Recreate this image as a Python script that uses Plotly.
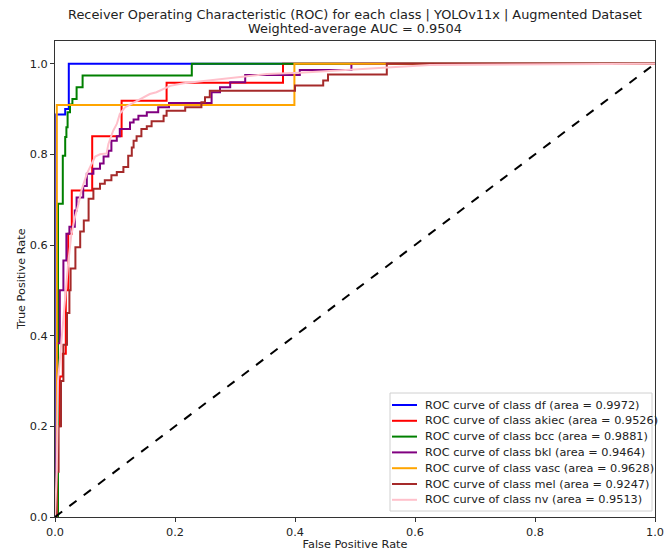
import plotly.graph_objects as go

# ---- data (ROC vertices) ----
classes = ["df", "akiec", "bcc", "bkl", "vasc", "mel", "nv"]
auc = [0.9972, 0.9526, 0.9881, 0.9464, 0.9628, 0.9247, 0.9513]
colors = ["blue", "red", "green", "purple", "orange", "brown", "pink"]

fpr_df = [0, 0.002, 0.017, 0.023, 1.0]
tpr_df = [0, 0.888, 0.9, 1.0, 1.0]

fpr_akiec = [0, 0.003, 0.008, 0.013, 0.018, 0.022, 0.028, 0.062, 0.111, 0.186, 0.38, 1.0]
tpr_akiec = [0, 0.2, 0.31, 0.36, 0.5, 0.625, 0.72, 0.84, 0.918, 0.958, 1.0, 1.0]

fpr_bcc = [0, 0.005, 0.013, 0.017, 0.019, 0.021, 0.025, 0.029, 0.036, 0.046, 0.228, 1.0]
tpr_bcc = [0, 0.691, 0.797, 0.838, 0.86, 0.893, 0.91, 0.922, 0.948, 0.974, 1.0, 1.0]

fpr_bkl = [0, 0.003, 0.008, 0.014, 0.019, 0.024, 0.033, 0.036, 0.047, 0.053, 0.064,
           0.075, 0.081, 0.089, 0.094, 0.103, 0.108, 0.125, 0.131, 0.139, 0.153, 0.172,
           0.190, 0.261, 0.275, 0.292, 0.317, 0.408, 0.494, 1.0]
tpr_bkl = [0, 0.383, 0.5, 0.566, 0.625, 0.64, 0.676, 0.705, 0.73, 0.757, 0.768,
           0.78, 0.795, 0.808, 0.83, 0.84, 0.856, 0.87, 0.877, 0.885, 0.893, 0.904,
           0.913, 0.937, 0.948, 0.959, 0.975, 0.986, 1.0, 1.0]

fpr_vasc = [0, 0.003, 0.399, 1.0]
tpr_vasc = [0, 0.909, 1.0, 1.0]

fpr_mel = [0, 0.003, 0.006, 0.01, 0.014, 0.02, 0.024, 0.026, 0.034, 0.042, 0.048,
           0.056, 0.064, 0.075, 0.083, 0.094, 0.103, 0.114, 0.122, 0.128, 0.131,
           0.136, 0.144, 0.153, 0.161, 0.181, 0.186, 0.217, 0.244, 0.25, 0.258,
           0.4, 0.447, 0.455, 0.553, 1.0]
tpr_mel = [0, 0.1, 0.2, 0.3, 0.38, 0.45, 0.5, 0.548, 0.595, 0.63, 0.654,
           0.702, 0.724, 0.735, 0.743, 0.754, 0.761, 0.772, 0.797, 0.815, 0.83,
           0.84, 0.856, 0.862, 0.873, 0.885, 0.896, 0.904, 0.915, 0.926, 0.94,
           0.952, 0.963, 0.976, 1.0, 1.0]

fpr_nv = [0, 0.003, 0.005, 0.01, 0.014, 0.018, 0.022, 0.027, 0.033, 0.039, 0.044,
          0.053, 0.061, 0.067, 0.075, 0.086, 0.089, 0.097, 0.103, 0.108, 0.117,
          0.125, 0.136, 0.147, 0.158, 0.169, 0.181, 0.192, 0.214, 0.242, 0.269,
          0.297, 0.325, 0.353, 0.408, 0.492, 0.553, 0.575, 0.625, 0.84, 1.0]
tpr_nv = [0, 0.1, 0.3, 0.38, 0.44, 0.5, 0.56, 0.62, 0.66, 0.69, 0.72,
          0.757, 0.78, 0.795, 0.8, 0.802, 0.823, 0.852, 0.867, 0.889, 0.904,
          0.91, 0.918, 0.926, 0.933, 0.937, 0.944, 0.951, 0.957, 0.961, 0.966,
          0.97, 0.974, 0.977, 0.98, 0.986, 0.99, 0.993, 0.997, 0.998, 1.0]

curves = [(fpr_df, tpr_df, "hv"), (fpr_akiec, tpr_akiec, "hv"), (fpr_bcc, tpr_bcc, "hv"),
          (fpr_bkl, tpr_bkl, "hv"), (fpr_vasc, tpr_vasc, "hv"), (fpr_mel, tpr_mel, "hv"),
          (fpr_nv, tpr_nv, "linear")]

ticks = [0.0, 0.2, 0.4, 0.6, 0.8, 1.0]
tick_labels = ["0.0", "0.2", "0.4", "0.6", "0.8", "1.0"]
diag = [0.0, 1.0]

title_line1 = "Receiver Operating Characteristic (ROC) for each class | YOLOv11x | Augmented Dataset"
title_line2 = "Weighted-average AUC = 0.9504"

font = "DejaVu Sans, sans-serif"
txt = "#222"

fig = go.Figure()
for (x, y, shape), name, a, c in zip(curves, classes, auc, colors):
    fig.add_trace(go.Scatter(
        x=x, y=y, mode="lines", line=dict(color=c, width=2, shape=shape),
        name=f"ROC curve of class {name} (area = {a:.4f})", showlegend=False))

fig.add_trace(go.Scatter(x=diag, y=diag, mode="lines", showlegend=False,
                         line=dict(color="black", width=2, dash="dash")))

# ---- legend box drawn in paper coordinates (matplotlib-style compact legend) ----
W, H = 600, 476  # plot area size in px
def px_x(p):  # pixels from plot-left -> paper x
    return p / W
def px_y(p):  # pixels from plot-bottom -> paper y
    return p / H

box_l, box_r, box_b, box_t = 335, 597, 6, 124
fig.add_shape(type="rect", xref="paper", yref="paper",
              x0=px_x(box_l), x1=px_x(box_r), y0=px_y(box_b), y1=px_y(box_t),
              line=dict(color="#d0d0d0", width=1), fillcolor="rgba(255,255,255,0.9)",
              layer="above")
row_top = 112
row_gap = 15.8
for i, (name, a, c) in enumerate(zip(classes, auc, colors)):
    yc = row_top - i * row_gap
    fig.add_shape(type="line", xref="paper", yref="paper",
                  x0=px_x(337), x1=px_x(362), y0=px_y(yc), y1=px_y(yc),
                  line=dict(color=c, width=2), layer="above")
    fig.add_annotation(xref="paper", yref="paper", x=px_x(368), y=px_y(yc),
                       xanchor="left", yanchor="middle", showarrow=False,
                       text=f"ROC curve of class {name} (area = {a:.4f})",
                       font=dict(family=font, size=11.3, color=txt))

# ---- title (two lines) and y-axis title ----
fig.add_annotation(xref="paper", yref="paper", x=0.5, y=1, xanchor="center",
                   yanchor="middle", yshift=26.5, showarrow=False, text=title_line1,
                   font=dict(family=font, size=12.9, color=txt))
fig.add_annotation(xref="paper", yref="paper", x=0.5, y=1, xanchor="center",
                   yanchor="middle", yshift=12.5, showarrow=False, text=title_line2,
                   font=dict(family=font, size=12.9, color=txt))
fig.add_annotation(xref="paper", yref="paper", x=0, y=0.5, xanchor="center",
                   yanchor="middle", xshift=-34, textangle=-90, showarrow=False,
                   text="True Positive Rate", font=dict(family=font, size=11.3, color=txt))

# Figure is offset 8px by the page body margin, so it is sized 8px smaller.
fig.update_layout(
    width=664, height=543,
    margin=dict(l=47, r=17, t=33, b=34),
    paper_bgcolor="white", plot_bgcolor="white",
    font=dict(family=font, size=11.3, color=txt),
    showlegend=False,
    xaxis=dict(range=[0, 1], tickvals=ticks, ticktext=tick_labels, automargin=False,
               showgrid=False, zeroline=False, showline=True, linecolor="#333",
               linewidth=1, mirror=True, ticks="outside", ticklen=4,
               tickcolor="#333",
               title=dict(text="False Positive Rate",
                          font=dict(family=font, size=11.3))),
    yaxis=dict(range=[0, 1.05], tickvals=ticks, ticktext=tick_labels, automargin=False,
               showgrid=False, zeroline=False, showline=True, linecolor="#333",
               linewidth=1, mirror=True, ticks="outside", ticklen=4,
               tickcolor="#333"),
)

fig.write_html("out.html")
